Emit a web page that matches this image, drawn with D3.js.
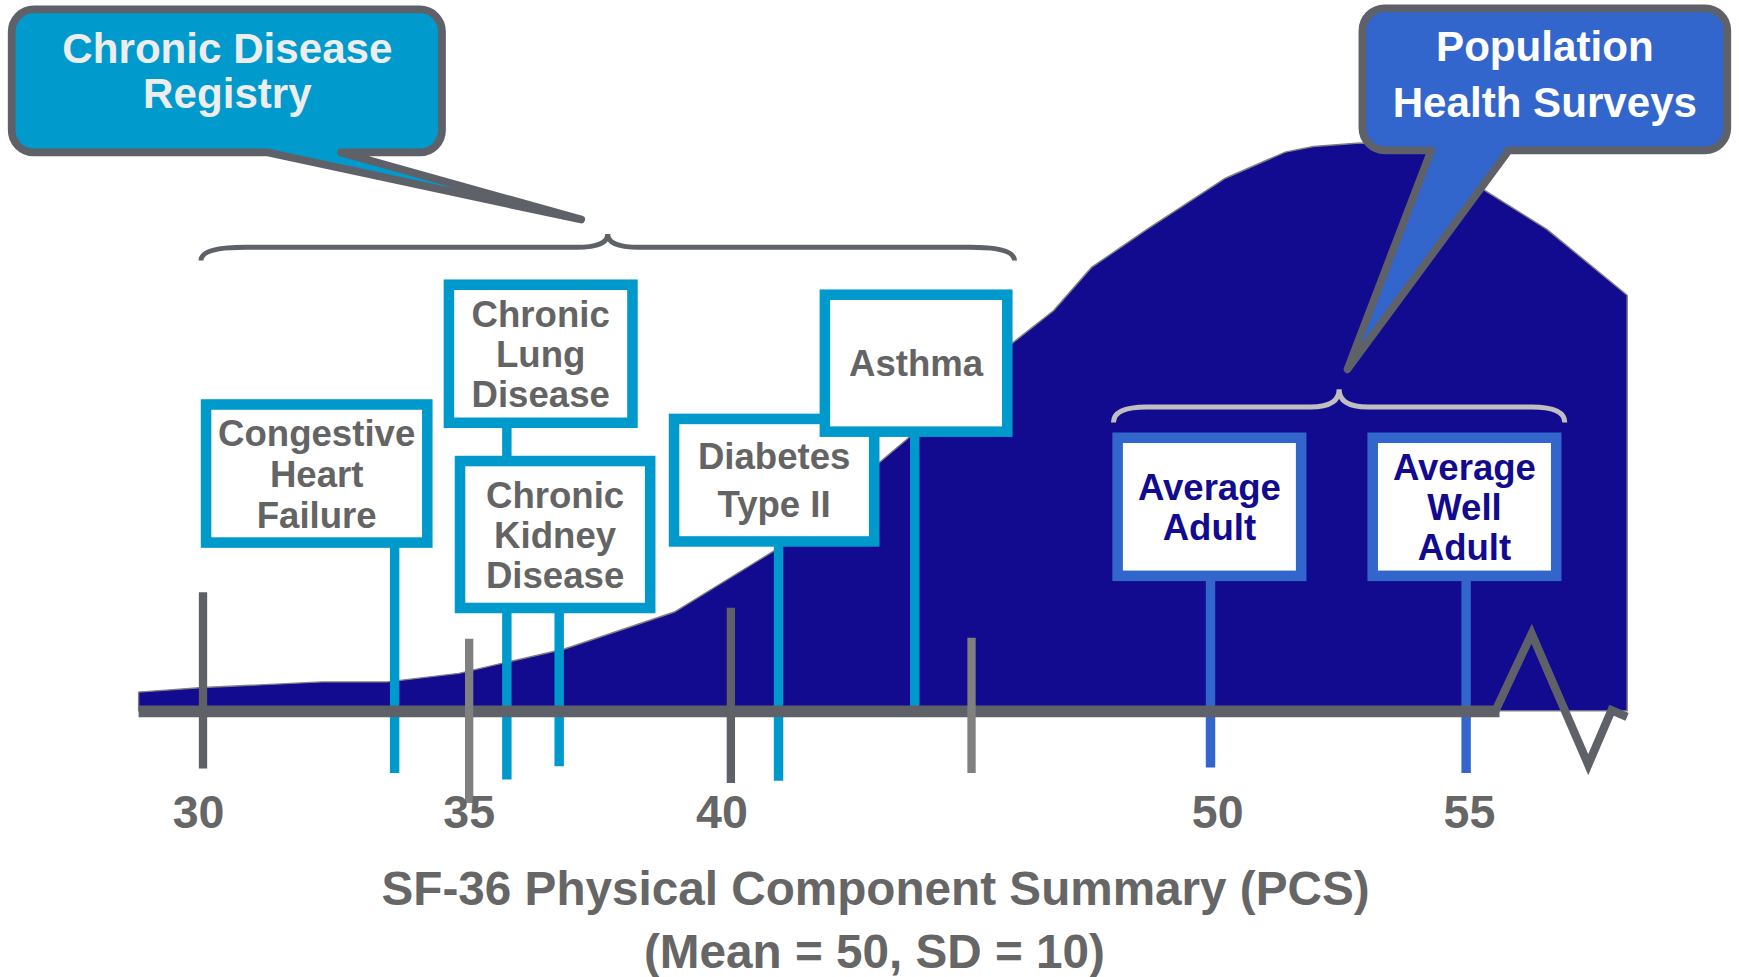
<!DOCTYPE html>
<html><head><meta charset="utf-8">
<script src="https://cdn.jsdelivr.net/npm/d3@7"></script>
<style>html,body{margin:0;padding:0;background:#fff;overflow:hidden}</style>
</head><body>
<svg id="chart"></svg>
<script>
// ---------------- data ----------------
const curvePCS = [28.79,30.0,32.23,33.46,34.81,35.64,36.82,38.92,40.92,43.64,45.86,46.72,47.51,48.67,50.29,51.46,52.01,52.92,54.09,55.41,56.58,58.15];
const curveDensity = [3.3,4.1,5.1,5.1,6.6,8.4,10.9,17.4,28.3,47.7,64.8,70.5,78.1,84.8,93.8,98.4,99.4,100,99.2,91.4,84.8,73.2];
const tickValues = [30,35,40,45];
const labelValues = [30,35,40,50,55];
const tickLabels = ["30","35","40","50","55"];
const conditionNames = [["Congestive","Heart","Failure"],["Chronic","Lung","Disease"],["Chronic","Kidney","Disease"],["Diabetes","Type II"],["Asthma"]];
const conditionPCS = [33.6,35.72,36.72,40.99,43.82];
const populationNames = [["Average","Adult"],["Average","Well","Adult"]];
const populationPCS = [50,55];
const calloutTexts = [["Chronic Disease","Registry"],["Population","Health Surveys"]];
const chronicRange = [29.96,45.9];
const populationRange = [47.97,56.93];
const axisStart = 28.79, axisBreak = 55.61;
const axisTitle = ["SF-36 Physical Component Summary (PCS)","(Mean = 50, SD = 10)"];

// ---------------- layout / style ----------------
const W = 1568, H = 881;
const C = {navy:"#120A8F", cyan:"#0099CC", blue:"#3366CC", dark:"#5F6168", mid:"#808080", light:"#BFBFBF", text:"#666666"};
const FONT = "'Liberation Sans', Arial, Helvetica, sans-serif";
const tickLayout = [
  {top:534,bottom:693,color:C.dark},{top:576,bottom:724,color:C.mid},
  {top:548,bottom:706,color:C.dark},{top:575,bottom:697,color:C.mid}];
const labelDx = [-4,0,-8,6.5,3];
const condBoxes = [
  {x0:181,x1:390,y0:360,y1:494,lh:37,bottom:697},
  {x0:400,x1:575,y0:252,y1:386,lh:36,bottom:703},
  {x0:410,x1:591,y0:411,y1:553,lh:36,bottom:691},
  {x0:603,x1:793,y0:373,y1:493,lh:43.6,bottom:704},
  {x0:739,x1:913,y0:261,y1:394,lh:36,bottom:641}];
const popBoxes = [
  {x0:1003,x1:1178,y0:390,y1:524,lh:36,bottom:692},
  {x0:1233,x1:1408,y0:390,y1:524,lh:36,bottom:697}];
const calloutLayout = [
  {x0:7,x1:402,y0:5,y1:141,r:20,tb0:238,tb1:311,tip:[524,198],fill:"#009ACD",color:"#EDEDED",base:[56.5,97.7],cx:205},
  {x0:1225,x1:1561,y0:4,y1:139,r:20,tb0:1287,tb1:1364,tip:[1215,333],fill:"#3366CC",color:"#FFFFFF",base:[55,105.2],cx:1393}];

const svg = d3.select("#chart")
  .attr("width",1739).attr("height",977)
  .attr("viewBox",`0 0 ${W} ${H}`);

const x = d3.scaleLinear().domain([30,35,40,45,50,55]).range([183,423,659,876,1091.5,1322]);
const y = d3.scaleLinear().domain([0,100]).range([641,129]);
const axisY = 641.5;

// distribution area
const pts = curvePCS.map((p,i)=>({p, d:curveDensity[i]}));
const area = d3.area().x(d=>x(d.p)).y0(y(0)).y1(d=>y(d.d));
svg.append("path").datum(pts).attr("d",area)
  .attr("fill",C.navy).attr("stroke",C.mid).attr("stroke-width",1.3);

// marker lines
const boxFont = 33, capH = boxFont*0.716;
condBoxes.forEach((b,i)=>{
  svg.append("line").attr("x1",x(conditionPCS[i])).attr("x2",x(conditionPCS[i]))
    .attr("y1",(b.y0+b.y1)/2).attr("y2",b.bottom)
    .attr("stroke",C.cyan).attr("stroke-width",8.5);
});
popBoxes.forEach((b,i)=>{
  svg.append("line").attr("x1",x(populationPCS[i])).attr("x2",x(populationPCS[i]))
    .attr("y1",(b.y0+b.y1)/2).attr("y2",b.bottom)
    .attr("stroke",C.blue).attr("stroke-width",8.5);
});

// axis line + break
svg.append("line").attr("x1",x(axisStart)).attr("x2",x(axisBreak)+2)
  .attr("y1",axisY).attr("y2",axisY).attr("stroke",C.dark).attr("stroke-width",10.5);
const bx = x(axisBreak);
svg.append("path")
  .attr("d",`M${bx-2},${axisY} L${bx+31},${axisY-70} L${bx+82},${axisY+48} L${bx+103},${axisY-1} L${bx+117},${axisY+5}`)
  .attr("fill","none").attr("stroke",C.dark).attr("stroke-width",7.5).attr("stroke-linejoin","miter");

// gray ticks
tickValues.forEach((v,i)=>{
  const t = tickLayout[i];
  svg.append("line").attr("x1",x(v)).attr("x2",x(v)).attr("y1",t.top).attr("y2",t.bottom)
    .attr("stroke",t.color).attr("stroke-width",7.5);
});

// tick labels
svg.selectAll("text.tick").data(labelValues).enter().append("text")
  .attr("x",(d,i)=>x(d)+labelDx[i]).attr("y",747).attr("text-anchor","middle")
  .attr("font-family",FONT).attr("font-weight","bold").attr("font-size",42)
  .attr("fill",C.text).text((d,i)=>tickLabels[i]);

// label boxes
function drawBox(b, lines, stroke, color){
  const sw = 9.5;
  svg.append("rect").attr("x",b.x0+sw/2).attr("y",b.y0+sw/2)
    .attr("width",b.x1-b.x0-sw).attr("height",b.y1-b.y0-sw)
    .attr("fill","#fff").attr("stroke",stroke).attr("stroke-width",sw);
  const c = (b.y0+b.y1)/2;
  const first = c - (lines.length-1)*b.lh/2 + capH/2;
  lines.forEach((s,k)=>{
    svg.append("text").attr("x",(b.x0+b.x1)/2).attr("y",first+k*b.lh)
      .attr("text-anchor","middle").attr("font-family",FONT).attr("font-weight","bold")
      .attr("font-size",boxFont).attr("fill",color).text(s);
  });
}
condBoxes.forEach((b,i)=>drawBox(b,conditionNames[i],C.cyan,"#646464"));
popBoxes.forEach((b,i)=>drawBox(b,populationNames[i],C.blue,C.navy));

// braces
function brace(x0,x1,yEnd,yH,yPeak,r,rm){
  const xm=(x0+x1)/2;
  return `M${x0},${yEnd} Q${x0},${yH} ${x0+r},${yH} L${xm-rm},${yH} Q${xm},${yH} ${xm},${yPeak} Q${xm},${yH} ${xm+rm},${yH} L${x1-r},${yH} Q${x1},${yH} ${x1},${yEnd}`;
}
svg.append("path").attr("d",brace(x(chronicRange[0]),x(chronicRange[1]),235,223,211,40,28))
  .attr("fill","none").attr("stroke",C.dark).attr("stroke-width",4.5);
svg.append("path").attr("d",brace(x(populationRange[0]),x(populationRange[1]),381,367,351,30,26))
  .attr("fill","none").attr("stroke",C.light).attr("stroke-width",4.5);

// callouts
function calloutPath(o){
  const s=3.5, x0=o.x0+s, x1=o.x1-s, y0=o.y0+s, y1=o.y1-s, r=o.r;
  return `M${x0+r},${y0} H${x1-r} A${r},${r} 0 0 1 ${x1},${y0+r} V${y1-r} A${r},${r} 0 0 1 ${x1-r},${y1} H${o.tb1-s} L${o.tip[0]},${o.tip[1]} L${o.tb0+s},${y1} H${x0+r} A${r},${r} 0 0 1 ${x0},${y1-r} V${y0+r} A${r},${r} 0 0 1 ${x0+r},${y0} Z`;
}
calloutLayout.forEach((o,i)=>{
  svg.append("path").attr("d",calloutPath(o)).attr("fill",o.fill)
    .attr("stroke",C.dark).attr("stroke-width",7).attr("stroke-linejoin","round");
  calloutTexts[i].forEach((s,k)=>{
    svg.append("text").attr("x",o.cx).attr("y",o.base[k]).attr("text-anchor","middle")
      .attr("font-family",FONT).attr("font-weight","bold").attr("font-size",38)
      .attr("fill",o.color).text(s);
  });
});

// axis title
svg.append("text").attr("x",789.5).attr("y",816).attr("text-anchor","middle")
  .attr("font-family",FONT).attr("font-weight","bold").attr("font-size",43)
  .attr("fill",C.text).text(axisTitle[0]);
svg.append("text").attr("x",788.5).attr("y",873).attr("text-anchor","middle")
  .attr("font-family",FONT).attr("font-weight","bold").attr("font-size",43)
  .attr("fill",C.text).text(axisTitle[1]);
</script>
</body></html>
